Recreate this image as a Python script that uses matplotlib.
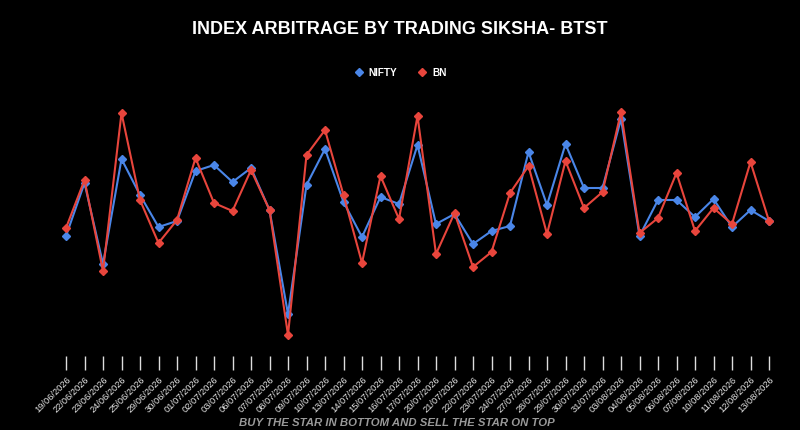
import matplotlib.pyplot as plt

# fechas de cada sesión
dates = ['19/06/2026', '22/06/2026', '23/06/2026', '24/06/2026', '25/06/2026',
         '29/06/2026', '30/06/2026', '01/07/2026', '02/07/2026', '03/07/2026',
         '06/07/2026', '07/07/2026', '08/07/2026', '09/07/2026', '10/07/2026',
         '13/07/2026', '14/07/2026', '15/07/2026', '16/07/2026', '17/07/2026',
         '20/07/2026', '21/07/2026', '22/07/2026', '23/07/2026', '24/07/2026',
         '27/07/2026', '28/07/2026', '29/07/2026', '30/07/2026', '31/07/2026',
         '03/08/2026', '04/08/2026', '05/08/2026', '06/08/2026', '07/08/2026',
         '10/08/2026', '11/08/2026', '12/08/2026', '13/08/2026']

nifty = [194, 247, 166, 271, 235, 203, 209, 259, 265, 248,
         262, 220, 116, 245, 281, 228, 193, 233, 226, 285,
         206, 216, 186, 199, 204, 278, 225, 286, 242, 242,
         311, 194, 230, 230, 213, 231, 203, 220, 209]

bn = [202, 250, 159, 317, 230, 187, 210, 272, 227, 219,
      260, 220, 95, 275, 300, 235, 167, 254, 211, 314,
      176, 217, 163, 178, 237, 264, 196, 269, 222, 238,
      318, 197, 212, 257, 199, 222, 206, 268, 209]

x = list(range(len(dates)))

fig = plt.figure(figsize=(8, 4.31), dpi=100, facecolor='black')
ax = fig.add_axes([47.5 / 800, 1 - 357 / 431, 740 / 800, 257 / 431])
ax.set_facecolor('black')

ax.plot(x, nifty, color='#4A86E8', marker='D', markersize=4.5, linewidth=1.5, label='NIFTY')
ax.plot(x, bn, color='#E8453C', marker='D', markersize=4.5, linewidth=1.5, label='BN')

ax.set_xlim(-1, len(dates))
ax.set_ylim(74, 331)

for s in ax.spines.values():
    s.set_visible(False)
ax.set_yticks([])
ax.set_xticks(x)
ax.set_xticklabels(dates, rotation=45, ha='right', va='top', rotation_mode='anchor',
                   fontsize=6.7, color='#e6e6e6', family='Liberation Sans')
ax.tick_params(axis='x', colors='#dddddd', length=10, width=1, pad=3, labelcolor='#e6e6e6')

# título y leyenda
fig.text(0.5, 1 - 30 / 431, 'INDEX ARBITRAGE BY TRADING SIKSHA- BTST', color='white',
         fontsize=13, fontweight='heavy', family='Liberation Sans', ha='center', va='center')
leg = fig.legend(loc='center', bbox_to_anchor=(0.5, 1 - 73 / 431), ncol=2, frameon=False,
                 handlelength=1, handletextpad=0.5, columnspacing=2,
                 prop={'family': 'Liberation Sans', 'weight': 'bold', 'size': 7.2})
for t in leg.get_texts():
    t.set_color('white')
for h in leg.legend_handles:
    h.set_linestyle('')

fig.text(0.5 - 3 / 800, 1 - 423 / 431, 'BUY THE STAR IN BOTTOM AND SELL THE STAR ON TOP',
         color='#999999', fontsize=8.2, fontweight='bold', style='italic',
         family='Liberation Sans', ha='center', va='center')

plt.savefig('out.png', dpi=100, facecolor='black')
